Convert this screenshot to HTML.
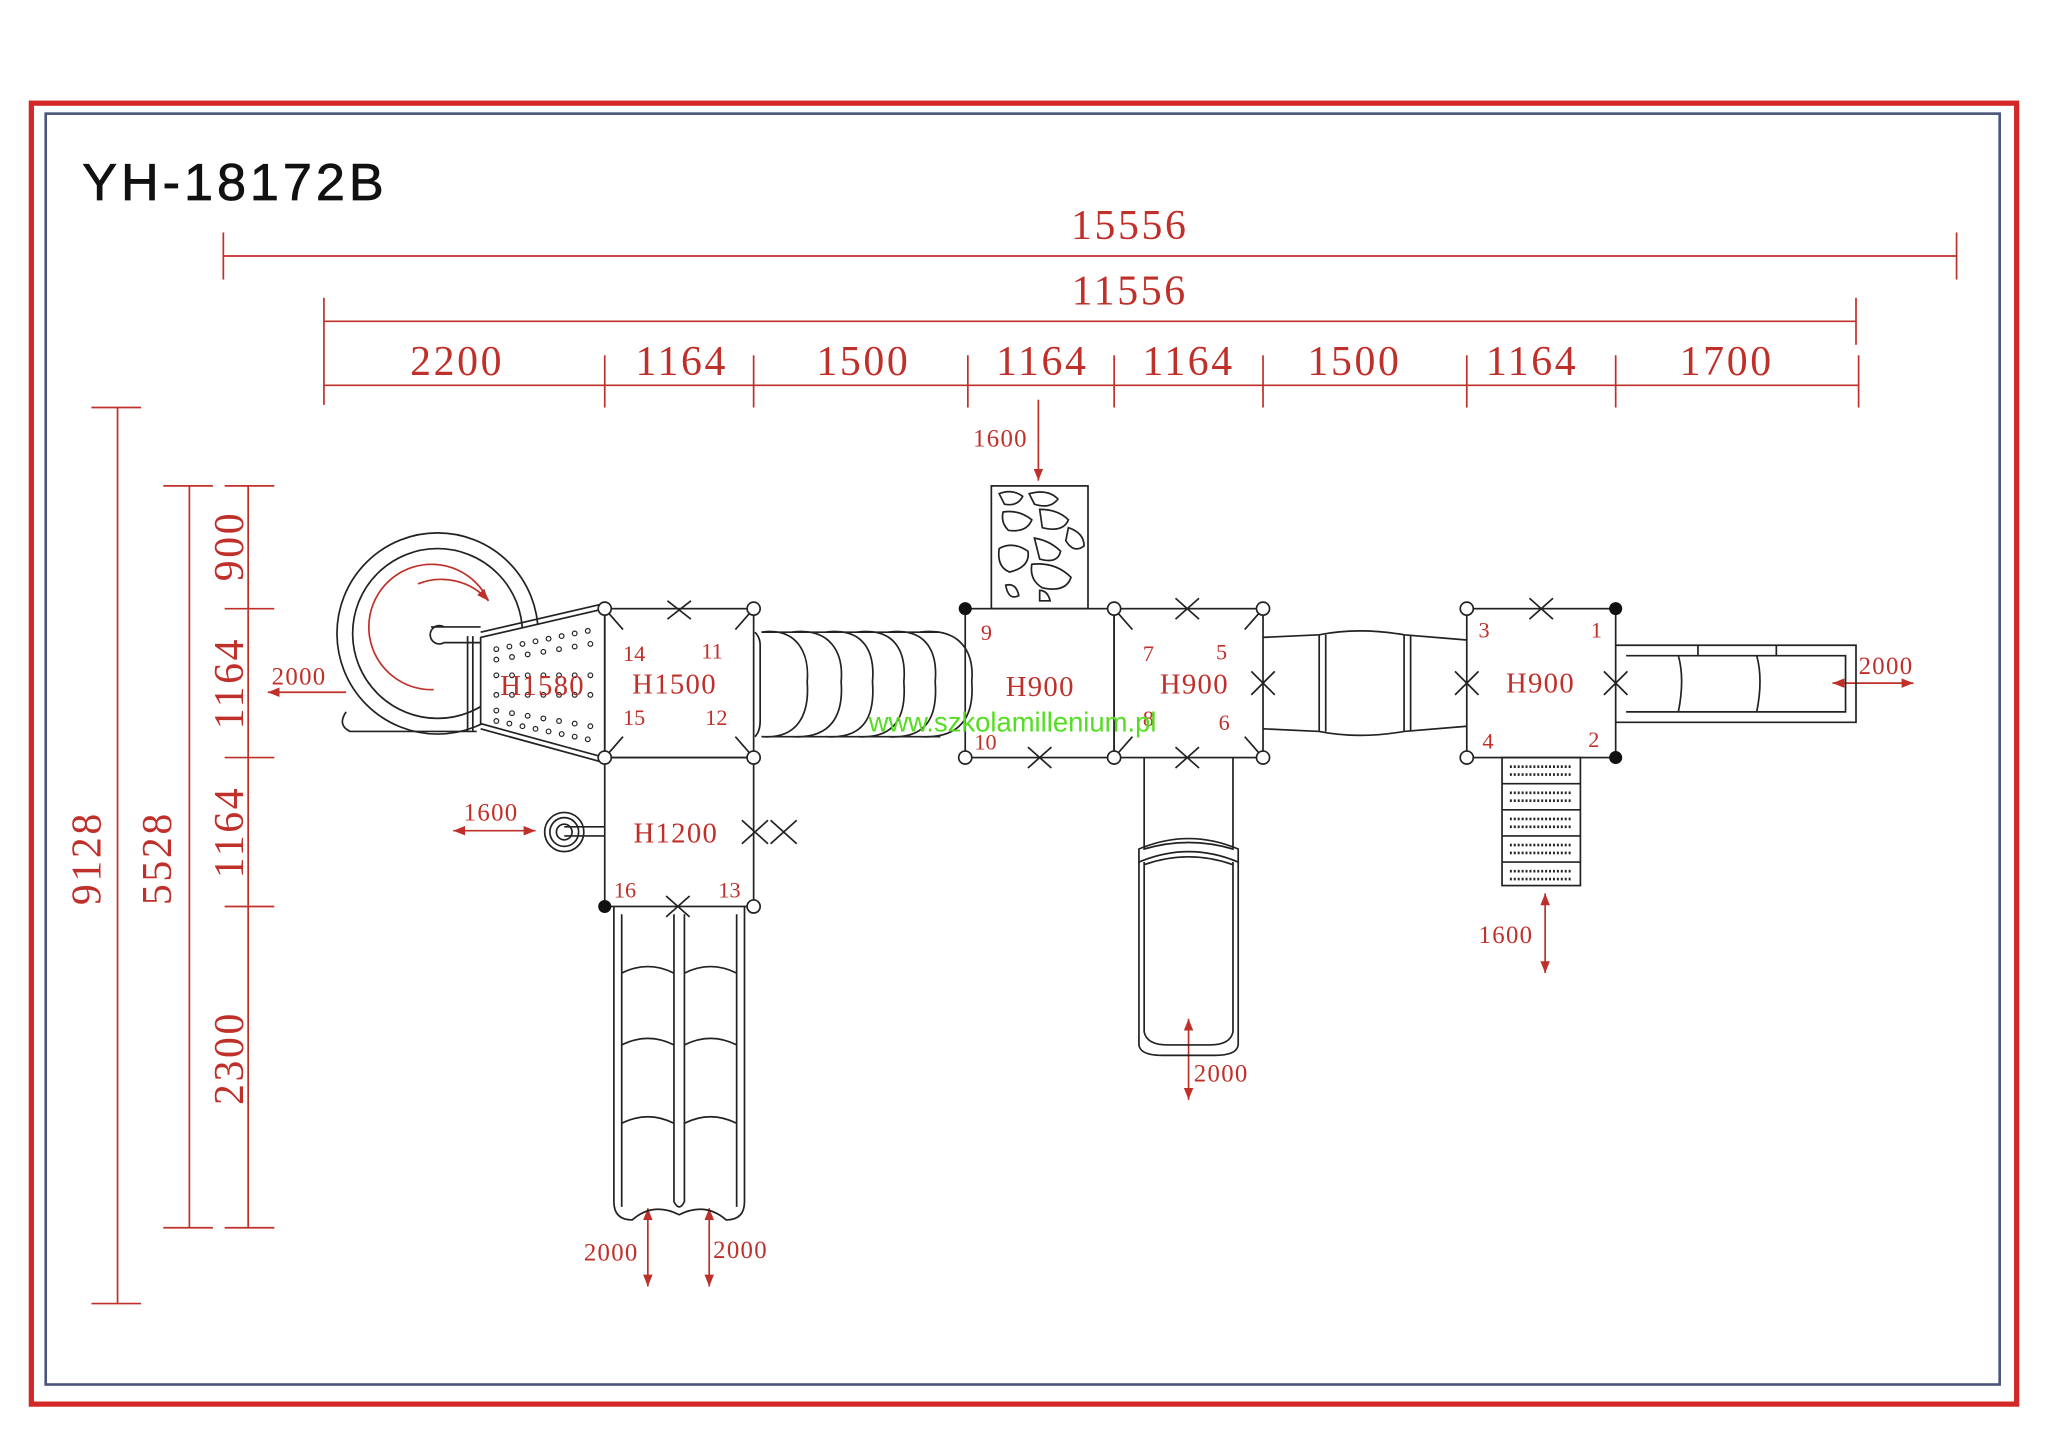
<!DOCTYPE html>
<html><head><meta charset="utf-8"><style>
html,body{margin:0;padding:0;background:#fff;}
svg{display:block;}
.d{fill:#c0302a;font-family:"Liberation Serif",serif;}
.l{stroke:#c0302a;stroke-width:1.3;fill:none;}
.k{stroke:#222;stroke-width:1.3;fill:none;}
.kw{stroke:#222;stroke-width:1.3;fill:#fff;}
</style></head><body>
<svg width="2048" height="1448" viewBox="0 0 1568 1108.6" preserveAspectRatio="none" xmlns="http://www.w3.org/2000/svg">
<defs>
<marker id="a" viewBox="0 0 10 10" refX="10" refY="5" markerWidth="7" markerHeight="7" orient="auto-start-reverse"><path d="M0,1 L10,5 L0,9 z" fill="#c0302a"/></marker>
</defs>
<rect x="24" y="79" width="1520" height="996" fill="none" stroke="#d42828" stroke-width="4"/>
<rect x="35" y="87" width="1496" height="973" fill="none" stroke="#4a5678" stroke-width="2"/>
<text x="63" y="153" font-family="Liberation Sans,sans-serif" font-size="40" fill="#111" stroke="#111" stroke-width="0.6" letter-spacing="3">YH-18172B</text>

<!-- horizontal dims -->
<g class="l">
<line x1="171" y1="196" x2="1498" y2="196"/><line x1="171" y1="178" x2="171" y2="214"/><line x1="1498" y1="178" x2="1498" y2="214"/>
<line x1="248" y1="246" x2="1421" y2="246"/><line x1="248" y1="228" x2="248" y2="310"/><line x1="1421" y1="228" x2="1421" y2="264"/>
<line x1="248" y1="295" x2="1423" y2="295"/>
<line x1="463" y1="272" x2="463" y2="312"/><line x1="577" y1="272" x2="577" y2="312"/><line x1="741" y1="272" x2="741" y2="312"/><line x1="853" y1="272" x2="853" y2="312"/><line x1="967" y1="272" x2="967" y2="312"/><line x1="1123" y1="272" x2="1123" y2="312"/><line x1="1237" y1="272" x2="1237" y2="312"/><line x1="1423" y1="272" x2="1423" y2="312"/>
</g>
<g class="d" font-size="32" text-anchor="middle" letter-spacing="2">
<text x="865" y="183">15556</text><text x="865" y="233">11556</text>
<text x="350" y="287">2200</text><text x="522" y="287">1164</text><text x="661" y="287">1500</text><text x="798" y="287">1164</text><text x="910" y="287">1164</text><text x="1037" y="287">1500</text><text x="1173" y="287">1164</text><text x="1322" y="287">1700</text>
</g>
<!-- vertical dims -->
<g class="l">
<line x1="90" y1="312" x2="90" y2="998"/><line x1="70" y1="312" x2="108" y2="312"/><line x1="70" y1="998" x2="108" y2="998"/>
<line x1="145" y1="372" x2="145" y2="940"/><line x1="125" y1="372" x2="163" y2="372"/><line x1="125" y1="940" x2="163" y2="940"/>
<line x1="190" y1="372" x2="190" y2="940"/>
<line x1="172" y1="372" x2="210" y2="372"/><line x1="172" y1="466" x2="210" y2="466"/><line x1="172" y1="580" x2="210" y2="580"/><line x1="172" y1="694" x2="210" y2="694"/><line x1="172" y1="940" x2="210" y2="940"/>
</g>
<g class="d" font-size="32" text-anchor="middle" letter-spacing="2">
<text transform="translate(77,657) rotate(-90)">9128</text>
<text transform="translate(131,657) rotate(-90)">5528</text>
<text transform="translate(186,418) rotate(-90)">900</text>
<text transform="translate(186,523) rotate(-90)">1164</text>
<text transform="translate(186,637) rotate(-90)">1164</text>
<text transform="translate(186,810) rotate(-90)">2300</text>
</g>

<!-- small dims with arrows -->
<g class="l">
<line x1="795" y1="306" x2="795" y2="368" marker-end="url(#a)"/>
<line x1="205" y1="530" x2="265" y2="530" marker-start="url(#a)"/>
<line x1="347" y1="636" x2="410" y2="636" marker-start="url(#a)" marker-end="url(#a)"/>
<line x1="1183" y1="684" x2="1183" y2="745" marker-start="url(#a)" marker-end="url(#a)"/>
<line x1="910" y1="780" x2="910" y2="842" marker-start="url(#a)" marker-end="url(#a)"/>
<line x1="496" y1="925" x2="496" y2="985" marker-start="url(#a)" marker-end="url(#a)"/>
<line x1="543" y1="925" x2="543" y2="985" marker-start="url(#a)" marker-end="url(#a)"/>
<line x1="1403" y1="523" x2="1465" y2="523" marker-start="url(#a)" marker-end="url(#a)"/>
</g>
<g class="d" font-size="19" letter-spacing="1">
<text x="745" y="342">1600</text><text x="208" y="524">2000</text><text x="355" y="628">1600</text>
<text x="1132" y="722">1600</text><text x="914" y="828">2000</text><text x="447" y="965">2000</text><text x="546" y="963">2000</text><text x="1423" y="516">2000</text>
</g>

<!-- spiral slide -->
<g class="k">
<path d="M265,545 Q258,555 268,560 L365,560"/>
<circle cx="335" cy="485" r="77"/>
<circle cx="335" cy="485" r="65"/>
<path d="M340,480 A7,7 0 1 0 340,492 L368,492"/>
<line x1="330" y1="480" x2="368" y2="480"/>
<line x1="358" y1="487" x2="358" y2="560"/><line x1="362" y1="487" x2="362" y2="560"/>
<path d="M368,488 L463,466 L463,580 L368,554 Z" fill="#fff"/>
<line x1="368" y1="484" x2="463" y2="462"/><line x1="368" y1="558" x2="463" y2="584"/>
</g>
<path d="M374,460 A48,48 0 1 0 332,528" fill="none" stroke="#c0302a" stroke-width="1.3"/>
<path d="M320,447 A48,48 0 0 1 374,460" fill="none" stroke="#c0302a" stroke-width="1.3" marker-end="url(#a)"/>
<g fill="none" stroke="#222" stroke-width="0.9">
<circle cx="380" cy="497" r="1.8"/><circle cx="390" cy="495" r="1.8"/><circle cx="400" cy="493" r="1.8"/><circle cx="410" cy="491" r="1.8"/><circle cx="420" cy="489" r="1.8"/><circle cx="430" cy="487" r="1.8"/><circle cx="440" cy="485" r="1.8"/><circle cx="450" cy="483" r="1.8"/>
<circle cx="380" cy="505" r="1.8"/><circle cx="392" cy="503" r="1.8"/><circle cx="404" cy="501" r="1.8"/><circle cx="416" cy="499" r="1.8"/><circle cx="428" cy="497" r="1.8"/><circle cx="440" cy="495" r="1.8"/><circle cx="452" cy="493" r="1.8"/>
<circle cx="380" cy="517" r="1.8"/><circle cx="392" cy="517" r="1.8"/><circle cx="404" cy="517" r="1.8"/><circle cx="416" cy="517" r="1.8"/><circle cx="428" cy="517" r="1.8"/><circle cx="440" cy="517" r="1.8"/><circle cx="452" cy="517" r="1.8"/>
<circle cx="380" cy="532" r="1.8"/><circle cx="392" cy="532" r="1.8"/><circle cx="404" cy="532" r="1.8"/><circle cx="416" cy="532" r="1.8"/><circle cx="428" cy="532" r="1.8"/><circle cx="440" cy="532" r="1.8"/><circle cx="452" cy="532" r="1.8"/>
<circle cx="380" cy="544" r="1.8"/><circle cx="392" cy="546" r="1.8"/><circle cx="404" cy="548" r="1.8"/><circle cx="416" cy="550" r="1.8"/><circle cx="428" cy="552" r="1.8"/><circle cx="440" cy="554" r="1.8"/><circle cx="452" cy="556" r="1.8"/>
<circle cx="380" cy="552" r="1.8"/><circle cx="390" cy="554" r="1.8"/><circle cx="400" cy="556" r="1.8"/><circle cx="410" cy="558" r="1.8"/><circle cx="420" cy="560" r="1.8"/><circle cx="430" cy="562" r="1.8"/><circle cx="440" cy="564" r="1.8"/><circle cx="450" cy="566" r="1.8"/>
</g>

<!-- platforms -->
<g class="k">
<rect x="463" y="466" width="114" height="114"/>
<rect x="463" y="580" width="114" height="114"/>
<rect x="739" y="466" width="114" height="114"/>
<rect x="853" y="466" width="114" height="114"/>
<rect x="1123" y="466" width="114" height="114"/>
<line x1="463" y1="466" x2="477" y2="482"/><line x1="577" y1="466" x2="563" y2="482"/><line x1="463" y1="580" x2="477" y2="564"/><line x1="577" y1="580" x2="563" y2="564"/>
<line x1="853" y1="466" x2="867" y2="482"/><line x1="967" y1="466" x2="953" y2="482"/><line x1="853" y1="580" x2="867" y2="564"/><line x1="967" y1="580" x2="953" y2="564"/>
<path d="M511,460 L529,474 M529,460 L511,474"/>
<path d="M568,628 L588,646 M588,628 L568,646 M590,628 L610,646 M610,628 L590,646"/>
<path d="M510,686 L528,702 M528,686 L510,702"/>
<path d="M787,572 L805,588 M805,572 L787,588"/>
<path d="M900,458 L918,474 M918,458 L900,474"/>
<path d="M900,572 L918,588 M918,572 L900,588"/>
<path d="M958,514 L976,532 M976,514 L958,532"/>
<path d="M1114,514 L1132,532 M1132,514 L1114,532"/>
<path d="M1228,514 L1246,532 M1246,514 L1228,532"/>
<path d="M1171,458 L1189,474 M1189,458 L1171,474"/>
<!-- tube -->
<path d="M578,484 Q582,488 582,494 L582,552 Q582,560 578,564"/>
<path d="M583,484 C610,480 620,500 618,522 C620,548 610,566 583,564"/>
<path d="M606,484 C636,480 646,500 644,522 C646,548 636,566 606,564"/>
<path d="M632,484 C662,480 670,500 668,522 C670,548 662,566 632,564"/>
<path d="M656,484 C686,480 694,500 692,522 C694,548 686,566 656,564"/>
<path d="M680,484 C710,480 718,500 716,522 C718,548 710,566 680,564"/>
<path d="M704,484 C736,480 746,500 744,522 C746,548 736,566 704,564"/>
<path d="M583,484 L720,484 M583,564 L720,564"/>
<!-- climbing wall -->
<rect x="759" y="372" width="74" height="94"/>
<path d="M765,378 q10,-4 18,2 q-4,8 -14,6 z M788,378 q14,-4 22,4 q-6,8 -18,4 z M768,392 q12,-2 22,6 q-4,10 -18,8 q-6,-6 -4,-14 z M796,390 q14,0 22,8 q-4,10 -20,6 z M765,420 q10,-6 22,2 q2,12 -14,16 q-10,-4 -8,-18 z M792,412 q12,2 20,10 q-2,10 -16,6 z M818,404 q12,4 12,14 q-8,6 -14,-4 z M790,432 q18,-2 30,10 q-4,12 -22,8 q-10,-6 -8,-18 z M770,448 q8,-2 10,8 q-8,4 -10,-8 z M796,452 q6,0 8,8 h-8 z"/>
<!-- slide down middle -->
<path d="M876,580 L876,650 Q910,640 944,650 L944,580"/>
<path d="M872,650 Q910,634 948,650 L948,660 Q910,644 872,660 Z"/>
<path d="M872,660 L872,800 Q873,808 890,808 L930,808 Q947,808 948,800 L948,660"/>
<path d="M876,660 L876,790 Q878,800 894,800 L926,800 Q942,800 944,790 L944,660"/>
<path d="M876,662 Q910,650 944,662"/>
<!-- bridge -->
<path d="M967,488 L1010,486 Q1040,480 1075,486 L1123,490 M967,558 L1010,560 Q1040,566 1075,560 L1123,556"/>
<line x1="1010" y1="486" x2="1010" y2="560"/><line x1="1015" y1="486" x2="1015" y2="560"/>
<line x1="1075" y1="486" x2="1075" y2="560"/><line x1="1080" y1="486" x2="1080" y2="560"/>
<!-- right slide -->
<path d="M1237,494 L1421,494 L1421,553 L1237,553"/>
<path d="M1245,502 L1413,502 L1413,545 L1245,545"/>
<path d="M1285,502 Q1290,520 1285,545 M1345,502 Q1350,520 1345,545"/>
<line x1="1300" y1="494" x2="1300" y2="502"/><line x1="1360" y1="494" x2="1360" y2="502"/>
<!-- stairs -->
<rect x="1150" y="580" width="60" height="98"/>
<line x1="1150" y1="600" x2="1210" y2="600"/><line x1="1150" y1="620" x2="1210" y2="620"/><line x1="1150" y1="640" x2="1210" y2="640"/><line x1="1150" y1="660" x2="1210" y2="660"/>
<!-- double slide -->
<path d="M470,694 L470,920 Q470,934 484,934 Q500,920 520,930 Q540,920 556,934 Q570,934 570,920 L570,694"/>
<path d="M476,700 L476,924 M564,700 L564,924"/>
<path d="M516,700 L516,920 Q520,928 524,920 L524,700"/>
<path d="M476,745 Q496,735 516,745 M524,745 Q544,735 564,745 M476,800 Q496,790 516,800 M524,800 Q544,790 564,800 M476,860 Q496,850 516,860 M524,860 Q544,850 564,860"/>
<!-- small spiral -->
<circle cx="432" cy="637" r="15"/><circle cx="432" cy="637" r="11"/><circle cx="432" cy="637" r="6"/>
<line x1="432" y1="633" x2="463" y2="633"/><line x1="432" y1="640" x2="463" y2="640"/>
</g>
<g fill="none" stroke="#222" stroke-width="2" stroke-dasharray="1.5 1.5">
<line x1="1156" y1="587" x2="1204" y2="587"/><line x1="1156" y1="593" x2="1204" y2="593"/>
<line x1="1156" y1="607" x2="1204" y2="607"/><line x1="1156" y1="613" x2="1204" y2="613"/>
<line x1="1156" y1="627" x2="1204" y2="627"/><line x1="1156" y1="633" x2="1204" y2="633"/>
<line x1="1156" y1="647" x2="1204" y2="647"/><line x1="1156" y1="653" x2="1204" y2="653"/>
<line x1="1156" y1="667" x2="1204" y2="667"/><line x1="1156" y1="673" x2="1204" y2="673"/>
</g>
<g class="kw">
<circle cx="463" cy="466" r="5"/><circle cx="577" cy="466" r="5"/><circle cx="463" cy="580" r="5"/><circle cx="577" cy="580" r="5"/><circle cx="577" cy="694" r="5"/>
<circle cx="739" cy="580" r="5"/><circle cx="853" cy="466" r="5"/><circle cx="853" cy="580" r="5"/><circle cx="967" cy="466" r="5"/><circle cx="967" cy="580" r="5"/>
<circle cx="1123" cy="466" r="5"/><circle cx="1123" cy="580" r="5"/>
</g>
<g fill="#111"><circle cx="463" cy="694" r="5"/><circle cx="739" cy="466" r="5"/><circle cx="1237" cy="466" r="5"/><circle cx="1237" cy="580" r="5"/></g>

<g class="d" font-size="22" letter-spacing="1">
<text x="383" y="532">H1580</text><text x="484" y="531">H1500</text><text x="485" y="645">H1200</text>
<text x="770" y="533">H900</text><text x="888" y="531">H900</text><text x="1153" y="530">H900</text>
</g>
<g class="d" font-size="17">
<text x="477" y="506">14</text><text x="537" y="504">11</text><text x="477" y="555">15</text><text x="540" y="555">12</text>
<text x="470" y="687">16</text><text x="550" y="687">13</text>
<text x="751" y="490">9</text><text x="746" y="574">10</text><text x="875" y="506">7</text><text x="931" y="505">5</text><text x="875" y="556">8</text><text x="933" y="559">6</text>
<text x="1132" y="488">3</text><text x="1218" y="488">1</text><text x="1135" y="573">4</text><text x="1216" y="572">2</text>
</g>
<text x="665" y="560" font-family="Liberation Sans,sans-serif" font-size="21" fill="#55dd22">www.szkolamillenium.pl</text>
</svg>
</body></html>
